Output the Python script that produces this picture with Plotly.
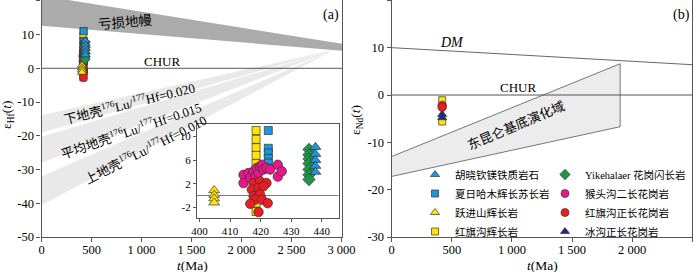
import plotly.graph_objects as go

W, H = 700, 272
def px(x): return x / W
def py(y): return 1 - y / H

FONT = "Liberation Serif, Times New Roman, Noto Sans CJK SC, serif"
AX = "#555555"
EDGE = "#333333"

# ---------------- data ----------------
# Panel (a): zircon εHf(t) vs t (Ma)
hxq_t = [437.9, 437.9, 437.9, 437.9, 437.9]            # 胡晓钦镁铁质岩石
hxq_hf = [8.2, 7.0, 6.0, 5.0, 4.0]
xrhm_t = [422.5, 422.5, 422.5, 422.5, 422.5, 422.5]     # 夏日哈木辉长苏长岩
xrhm_hf = [11.0, 8.0, 7.2, 6.3, 5.5, 4.6]
yjs_t = [404.8, 404.8, 404.8, 404.8]                    # 跃进山辉长岩
yjs_hf = [0.9, 0.1, -0.5, -1.2]
hqgg_t = [418.5, 418.5, 418.5, 418.5, 418.5, 418.5, 418.5]   # 红旗沟辉长岩
hqgg_hf = [11.0, 9.5, 8.1, 6.8, 5.4, -1.3, -2.7]
ykh_t = [435.8, 435.8, 435.8, 435.8, 435.8, 435.8, 435.8]    # Yikehalaer 花岗闪长岩
ykh_hf = [7.8, 6.9, 6.2, 5.4, 4.4, 3.5, 2.7]
htg_t = [414.4, 414.4, 416.0, 416.6, 417.7, 418.2, 418.7, 419.3, 419.8, 420.4,
         420.9, 421.9, 423.1, 425.6, 425.6, 426.9]                 # 猴头沟二长花岗岩
htg_hf = [3.5, 2.1, 3.8, 3.0, 4.1, 3.2, 4.65, 3.8, 4.9, 5.2,
          4.4, 4.65, 4.4, 5.2, 3.2, 4.1]
hqgs_t = [417.7, 419.8, 421.9, 417.1, 419.3, 420.9, 417.7, 419.8, 418.2, 416.6,
          420.4, 422.3, 419.3]                                      # 红旗沟正长花岗岩
hqgs_hf = [2.1, 2.4, 2.1, 1.0, 1.3, 1.55, -0.1, 0.15, -0.7, -1.4,
           -0.7, -1.3, -2.8]

# Panel (a) reference fields
dm_t = [0, 3005, 3005, 0]
dm_hf = [21.5, 7.3, 5.2, 12.6]
lc_t = [0, 2920, 0]
lc_hf = [-13.9, 5.4, -19.0]
mc_t = [0, 2920, 0]
mc_hf = [-20.3, 5.4, -28.0]
uc_t = [0, 2920, 0]
uc_hf = [-32.0, 5.4, -40.6]
chur_a_t = [0, 3005]
chur_a_hf = [0, 0]
inset_t = [399.2, 445.5]
inset_zero = [0, 0]

# Panel (b): whole-rock εNd(t)
hqgg_nd_t = [420, 420]
hqgg_nd = [-1.1, -5.6]
hqgs_nd_t = [420, 420]
hqgs_nd = [-2.2, -2.6]
bg_nd_t = [420, 420]                                     # 冰沟正长花岗岩
bg_nd = [-4.1, -4.8]

dm_b_t = [0, 2500]
dm_b_nd = [10.0, 6.4]
chur_b_t = [0, 2500]
chur_b_nd = [0, 0]
kl_t = [0, 1900, 1900, 0]
kl_nd = [-13.0, 6.6, -6.7, -17.2]

xa_ticks = [0, 500, 1000, 1500, 2000, 2500, 3000]
xa_text = ["0", "500", "1 000", "1 500", "2 000", "2 500", "3 000"]
ya_ticks = [-50, -40, -30, -20, -10, 0, 10, 20]
ya_text = ["-50", "-40", "-30", "-20", "-10", "0", "10", "20"]
xb_ticks = [0, 500, 1000, 1500, 2000, 2500]
xb_text = ["0", "500", "1 000", "1 500", "2 000", "2 500"]
yb_ticks = [-30, -20, -10, 0, 10, 20]
yb_text = ["-30", "-20", "-10", "0", "10", "20"]
xi_ticks = [400, 410, 420, 430, 440]
yi_ticks = [-2, 2, 6, 10]
yi_text = ["-2", "2", "6", "10"]

BLUE = "#1f95db"
YEL = "#ffe500"
GREEN = "#1e9648"
PINK = "#e8178a"
RED = "#ec1c24"
NAVY = "#1f2a8a"

fig = go.Figure()

# ---- panel (a) fields ----
fig.add_trace(go.Scatter(x=dm_t, y=dm_hf, fill="toself", fillcolor="#ababab",
                         line=dict(width=0), mode="lines", showlegend=False,
                         hoverinfo="skip", xaxis="x", yaxis="y"))
for bt, bh in [(lc_t, lc_hf), (mc_t, mc_hf), (uc_t, uc_hf)]:
    fig.add_trace(go.Scatter(x=bt, y=bh, fill="toself", fillcolor="#e9e9e9",
                             line=dict(width=0), mode="lines", showlegend=False,
                             hoverinfo="skip", xaxis="x", yaxis="y"))
fig.add_trace(go.Scatter(x=chur_a_t, y=chur_a_hf, mode="lines",
                         line=dict(color=AX, width=1), showlegend=False,
                         hoverinfo="skip", xaxis="x", yaxis="y"))

series = [
    # name, t, hf, symbol, color, legend, rank
    ("红旗沟辉长岩", hqgg_t, hqgg_hf, "square", YEL, "legend", 4),
    ("夏日哈木辉长苏长岩", xrhm_t, xrhm_hf, "square", BLUE, "legend", 2),
    ("猴头沟二长花岗岩", htg_t, htg_hf, "circle", PINK, "legend2", 2),
    ("红旗沟正长花岗岩", hqgs_t, hqgs_hf, "circle", RED, "legend2", 3),
    ("跃进山辉长岩", yjs_t, yjs_hf, "triangle-up", YEL, "legend", 3),
    ("Yikehalaer 花岗闪长岩", ykh_t, ykh_hf, "diamond", GREEN, "legend2", 1),
    ("胡晓钦镁铁质岩石", hxq_t, hxq_hf, "triangle-up", BLUE, "legend", 1),
]
main_size = {"square": 7, "circle": 8, "triangle-up": 8, "diamond": 8}
ins_size = {"square": 8, "circle": 9.5, "triangle-up": 9.5, "diamond": 9.5}

for name, t, v, sym, col, lg, rk in series:
    fig.add_trace(go.Scatter(x=t, y=v, mode="markers", name=name,
                             legendgroup=name, legend=lg, legendrank=rk,
                             marker=dict(symbol=sym, color=col, size=main_size[sym],
                                         line=dict(color=EDGE, width=0.7)),
                             xaxis="x", yaxis="y"))

# ---- inset ----
fig.add_trace(go.Scatter(x=inset_t, y=inset_zero, mode="lines",
                         line=dict(color="#7a7a7a", width=1), showlegend=False,
                         hoverinfo="skip", xaxis="x3", yaxis="y3"))
for name, t, v, sym, col, lg, rk in series:
    fig.add_trace(go.Scatter(x=t, y=v, mode="markers", name=name,
                             legendgroup=name, showlegend=False,
                             marker=dict(symbol=sym, color=col, size=ins_size[sym],
                                         line=dict(color=EDGE, width=0.7)),
                             xaxis="x3", yaxis="y3"))

# ---- panel (b) ----
fig.add_trace(go.Scatter(x=kl_t, y=kl_nd, fill="toself", fillcolor="#ececec",
                         line=dict(color="#555555", width=0.8), mode="lines",
                         showlegend=False, hoverinfo="skip", xaxis="x2", yaxis="y2"))
fig.add_trace(go.Scatter(x=dm_b_t, y=dm_b_nd, mode="lines",
                         line=dict(color="#555555", width=0.9), showlegend=False,
                         hoverinfo="skip", xaxis="x2", yaxis="y2"))
fig.add_trace(go.Scatter(x=chur_b_t, y=chur_b_nd, mode="lines",
                         line=dict(color=AX, width=1), showlegend=False,
                         hoverinfo="skip", xaxis="x2", yaxis="y2"))
fig.add_trace(go.Scatter(x=hqgg_nd_t, y=hqgg_nd, mode="markers", name="红旗沟辉长岩",
                         legendgroup="红旗沟辉长岩", showlegend=False,
                         marker=dict(symbol="square", color=YEL, size=7,
                                     line=dict(color=EDGE, width=0.7)),
                         xaxis="x2", yaxis="y2"))
fig.add_trace(go.Scatter(x=hqgs_nd_t, y=hqgs_nd, mode="markers", name="红旗沟正长花岗岩",
                         legendgroup="红旗沟正长花岗岩", showlegend=False,
                         marker=dict(symbol="circle", color=RED, size=8.5,
                                     line=dict(color=EDGE, width=0.7)),
                         xaxis="x2", yaxis="y2"))
fig.add_trace(go.Scatter(x=bg_nd_t, y=bg_nd, mode="markers", name="冰沟正长花岗岩",
                         legendgroup="冰沟正长花岗岩", legend="legend2", legendrank=4,
                         marker=dict(symbol="triangle-up", color=NAVY, size=8,
                                     line=dict(color=EDGE, width=0.7)),
                         xaxis="x2", yaxis="y2"))

tickfont = dict(family=FONT, size=12.5, color="black")
common = dict(showgrid=False, zeroline=False, showline=True, linecolor=AX,
              linewidth=1.2, ticks="outside", ticklen=4, tickcolor=AX,
              tickwidth=1, tickfont=tickfont, automargin=False)
ydom = [py(237), 1.0]
small_font = dict(family=FONT, size=11, color="black")

fig.update_layout(
    width=W, height=H,
    margin=dict(l=0, r=0, t=0, b=0),
    paper_bgcolor="white", plot_bgcolor="white",
    font=dict(family=FONT, size=12.5, color="black"),
    xaxis=dict(domain=[px(41.5), px(342)], range=[0, 3005], anchor="y",
               tickvals=xa_ticks, ticktext=xa_text, mirror=False,
               ticklabelstandoff=-3, **common),
    yaxis=dict(domain=ydom, range=[-50, 20.24], anchor="x",
               tickvals=ya_ticks, ticktext=ya_text, mirror=True, **common),
    xaxis2=dict(domain=[px(391.7), px(692.3)], range=[0, 2500], anchor="y2",
                tickvals=xb_ticks, ticktext=xb_text, mirror=False,
                ticklabelstandoff=-3, **common),
    yaxis2=dict(domain=ydom, range=[-30, 20.07], anchor="x2",
                tickvals=yb_ticks, ticktext=yb_text, mirror=True, **common),
    xaxis3=dict(domain=[px(197), px(338.7)], range=[399.2, 445.5], anchor="y3",
                tickvals=xi_ticks, mirror=True,
                **{**common, "ticklen": 3, "tickfont": small_font}),
    yaxis3=dict(domain=[py(218), py(124)], range=[-3.8, 12.1], anchor="x3",
                tickvals=yi_ticks, ticktext=yi_text, mirror=True,
                **{**common, "ticklen": 3, "tickfont": small_font}),
    legend=dict(x=px(415), y=py(160), xanchor="left", yanchor="top",
                bgcolor="rgba(0,0,0,0)", font=dict(family=FONT, size=10.5),
                itemsizing="trace", itemwidth=30, tracegroupgap=0),
    legend2=dict(x=px(545), y=py(160), xanchor="left", yanchor="top",
                 bgcolor="rgba(0,0,0,0)", font=dict(family=FONT, size=10.5),
                 itemsizing="trace", itemwidth=30, tracegroupgap=0),
    showlegend=True,
)

ann = []
def A(text, x, y, xref, yref, size=13, angle=0, **kw):
    ann.append(dict(text=text, x=x, y=y, xref=xref, yref=yref, showarrow=False,
                    textangle=angle, font=dict(family=FONT, size=size, color="black"),
                    xanchor="center", yanchor="middle", **kw))

A("亏损地幔", 835, 13.6, "x", "y", size=13.5, angle=-5)
A("CHUR", 1205, 2.0, "x", "y", size=13)
A("下地壳<sup>176</sup>Lu/<sup>177</sup>Hf=0.020", 875, -10.4, "x", "y", size=13, angle=-14)
A("平均地壳<sup>176</sup>Lu/<sup>177</sup>Hf=0.015", 895, -18.2, "x", "y", size=13, angle=-19)
A("上地壳<sup>176</sup>Lu/<sup>177</sup>Hf=0.010", 1040, -23.9, "x", "y", size=13, angle=-27)
A("(a)", px(331), py(15), "paper", "paper", size=14)
A("ε<sub>Hf</sub>(<i>t</i>)", px(7), py(115), "paper", "paper", size=13.5, angle=-90)
A("<i>t</i>(Ma)", px(192), py(265), "paper", "paper", size=13.5)

A("<i>DM</i>", 500, 11.0, "x2", "y2", size=14)
A("CHUR", 1052, 1.5, "x2", "y2", size=13)
A("东昆仑基底演化域", 1036, -6.4, "x2", "y2", size=13, angle=-23)
A("(b)", px(681), py(15), "paper", "paper", size=14)
A("ε<sub>Nd</sub>(<i>t</i>)", px(356), py(120), "paper", "paper", size=13.5, angle=-90)
A("<i>t</i>(Ma)", px(542), py(265), "paper", "paper", size=13.5)

fig.update_layout(annotations=ann)
fig.write_html(
    "out.html",
    config={"displayModeBar": False},
    post_script="document.body.style.margin='0';document.body.style.padding='0';"
                "document.documentElement.style.overflow='hidden';",
)
